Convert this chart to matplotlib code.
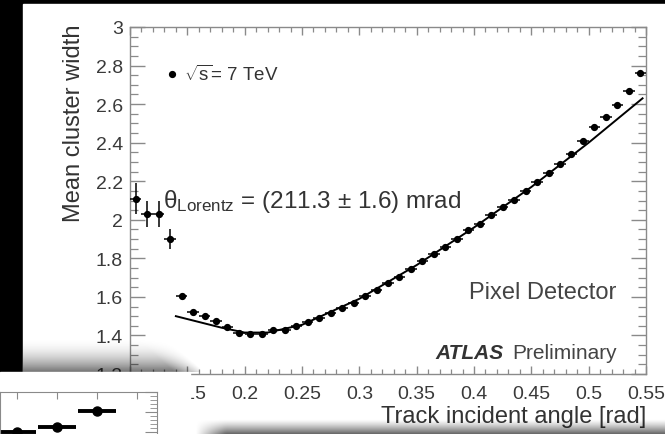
import matplotlib
matplotlib.use("Agg")

import matplotlib.pyplot as plt
import numpy as np
from matplotlib.patches import Rectangle
from matplotlib.ticker import MultipleLocator, FuncFormatter

plt.rcParams["font.family"] = ["Liberation Sans", "DejaVu Sans"]
plt.rcParams["mathtext.fontset"] = "custom"
plt.rcParams["mathtext.rm"] = "Liberation Sans"
plt.rcParams["mathtext.it"] = "Liberation Sans:italic"
plt.rcParams["mathtext.bf"] = "Liberation Sans:bold"

# measured mean cluster width per incident-angle bin
angle = [0.105, 0.115, 0.125, 0.135, 0.145, 0.155, 0.165, 0.175, 0.185, 0.195,
         0.205, 0.215, 0.225, 0.235, 0.245, 0.255, 0.265, 0.275, 0.285, 0.295,
         0.305, 0.315, 0.325, 0.335, 0.345, 0.355, 0.365, 0.375, 0.385, 0.395,
         0.405, 0.415, 0.425, 0.435, 0.445, 0.455, 0.465, 0.475, 0.485, 0.495,
         0.505, 0.515, 0.525, 0.535, 0.545]
width = [2.11, 2.03, 2.03, 1.90, 1.605, 1.52, 1.50, 1.475, 1.445, 1.415,
         1.405, 1.41, 1.43, 1.43, 1.45, 1.47, 1.49, 1.515, 1.54, 1.57,
         1.605, 1.635, 1.67, 1.705, 1.745, 1.785, 1.82, 1.86, 1.90, 1.945,
         1.98, 2.025, 2.065, 2.105, 2.15, 2.195, 2.245, 2.29, 2.34, 2.41,
         2.48, 2.535, 2.595, 2.67, 2.76]
width_err = [0.08, 0.07, 0.07, 0.05, 0.01, 0.006, 0.005, 0.005, 0.005, 0.005,
             0.005, 0.005, 0.005, 0.005, 0.005, 0.005, 0.005, 0.005, 0.005, 0.005,
             0.005, 0.005, 0.005, 0.005, 0.005, 0.005, 0.005, 0.005, 0.005, 0.005,
             0.005, 0.005, 0.005, 0.005, 0.005, 0.005, 0.005, 0.005, 0.005, 0.005,
             0.005, 0.005, 0.005, 0.005, 0.005]
bin_half = 0.005

# fitted model curve
fit_angle = [0.14, 0.16, 0.18, 0.20, 0.22, 0.25, 0.30, 0.35, 0.40, 0.45, 0.50, 0.547]
fit_width = [1.50, 1.47, 1.44, 1.415, 1.415, 1.455, 1.59, 1.765, 1.96, 2.17, 2.40, 2.63]

# partly hidden plot of the window lying on top (bottom-left corner)
other_x = [0, 1, 2]
other_y = [6.0, 6.5, 8.1]

W, H = 665, 435
fig = plt.figure(figsize=(W / 100, H / 100), dpi=100)
fig.patch.set_facecolor("black")


def fx(px):
    return px / W


def fy(py):
    return 1 - py / H


# screenshot window behind the plot
bg = fig.add_axes([0, 0, 1, 1], zorder=0)
bg.set_xlim(0, W)
bg.set_ylim(H, 0)
bg.axis("off")
bg.add_patch(Rectangle((23, 5), W - 23, H - 5, color="white"))

# main plot
ax = fig.add_axes([fx(130), fy(375), fx(516), 347 / H], zorder=1)
ax.set_facecolor("white")
ax.errorbar(angle, width, yerr=width_err, xerr=bin_half, fmt="o", color="black",
            markersize=4.2, elinewidth=1.1, capsize=0, zorder=3)
ax.plot(fit_angle, fit_width, color="black", linewidth=1.4, zorder=2)
ax.set_xlim(0.1, 0.55)
ax.set_ylim(1.2, 3.0)
ax.xaxis.set_major_locator(MultipleLocator(0.05))
ax.xaxis.set_minor_locator(MultipleLocator(0.01))
ax.yaxis.set_major_locator(MultipleLocator(0.2))
ax.yaxis.set_minor_locator(MultipleLocator(0.05))
ax.xaxis.set_major_formatter(FuncFormatter(lambda v, p: f"{v:g}"))
ax.yaxis.set_major_formatter(FuncFormatter(lambda v, p: f"{v:g}"))
for s in ax.spines.values():
    s.set_color("#8a8a8a")
    s.set_linewidth(1.0)
ax.tick_params(which="both", direction="in", top=True, right=True,
               color="#8a8a8a", labelcolor="#3a3a3a", labelsize=14)
ax.tick_params(axis="y", which="major", length=11, width=1.0, pad=5)
ax.tick_params(axis="y", which="minor", length=6, width=0.9)
ax.tick_params(axis="x", which="major", length=6, width=1.0, pad=8)
ax.tick_params(axis="x", which="minor", length=3.5, width=0.9)

ax.set_xlabel("Track incident angle [rad]", fontsize=17, color="#333333",
              ha="right", va="center")
ax.xaxis.set_label_coords(1.0, -0.121)
ax.set_ylabel("Mean cluster width", fontsize=17, color="#333333",
              ha="right", va="center")
ax.yaxis.set_label_coords(-0.108, 1.009)

ax.plot([0.0814], [0.8646], "o", color="black", markersize=4.2,
        transform=ax.transAxes, clip_on=False)
ax.text(0.105, 0.8646, r"$\sqrt{\mathrm{s}}$= 7 TeV", transform=ax.transAxes,
        fontsize=13.5, color="#333333", va="center", ha="left")
ax.text(0.064, 0.481, r"$\mathrm{\theta}_{\mathrm{Lorentz}}$ = (211.3 ± 1.6) mrad",
        transform=ax.transAxes, fontsize=17.5, color="#333333",
        va="baseline", ha="left")
ax.text(0.942, 0.236, "Pixel Detector", transform=ax.transAxes,
        fontsize=17, color="#444444", va="center", ha="right")
ax.text(0.944, 0.063, "Preliminary", transform=ax.transAxes,
        fontsize=15, color="#444444", va="center", ha="right")
ax.text(0.723, 0.063, "ATLAS", transform=ax.transAxes, fontsize=15,
        color="#333333", va="center", ha="right", fontweight="bold",
        fontstyle="italic")

# shadows of the windows lying over this one
ov = fig.add_axes([0, 0, 1, 1], zorder=2)
ov.patch.set_alpha(0)
ov.axis("off")

y1 = np.linspace(0, 1, 60)[:, None]
x1 = np.linspace(23, 200, 180)[None, :]
edge1 = 150 + 40 * y1
a1 = (y1 ** 2) * 0.55 * np.clip((edge1 - x1) / 30 + 0.5, 0, 1)
img1 = np.zeros((60, 180, 4))
img1[..., 3] = a1
ov.imshow(img1, extent=(23, 200, 373, 338), aspect="auto", interpolation="bilinear")

y2 = np.linspace(0, 1, 30)[:, None]
x2 = np.linspace(185, 665, 200)[None, :]
a2 = (y2 ** 1.3) * 0.6 * np.clip((x2 - 195) / 30, 0, 1)
img2 = np.zeros((30, 200, 4))
img2[..., 3] = a2
ov.imshow(img2, extent=(185, 665, 435, 420), aspect="auto", interpolation="bilinear")

ov.add_patch(Rectangle((0, 373), 190, 62, color="white"))
ov.set_xlim(0, W)
ov.set_ylim(H, 0)

# corner of the other plot
ax2 = fig.add_axes([0, fy(493), fx(157), 100 / H], zorder=3)
ax2.set_facecolor("white")
ax2.errorbar(other_x, other_y, xerr=0.48, fmt="o", color="black",
             markersize=6.5, elinewidth=2.8, capsize=0)
ax2.set_xlim(-0.425, 3.5)
ax2.set_ylim(0, 10)
ax2.xaxis.set_major_locator(MultipleLocator(1))
ax2.yaxis.set_minor_locator(MultipleLocator(0.4))
ax2.yaxis.set_major_locator(MultipleLocator(2))
for s in ax2.spines.values():
    s.set_color("#8a8a8a")
ax2.tick_params(which="both", direction="in", top=True, right=True,
                bottom=False, left=False, labelbottom=False, labelleft=False,
                color="#8a8a8a")
ax2.tick_params(axis="x", which="major", length=5)
ax2.tick_params(axis="y", which="major", length=9)
ax2.tick_params(axis="y", which="minor", length=5)

fig.savefig("out.png", dpi=100, facecolor=fig.get_facecolor())
